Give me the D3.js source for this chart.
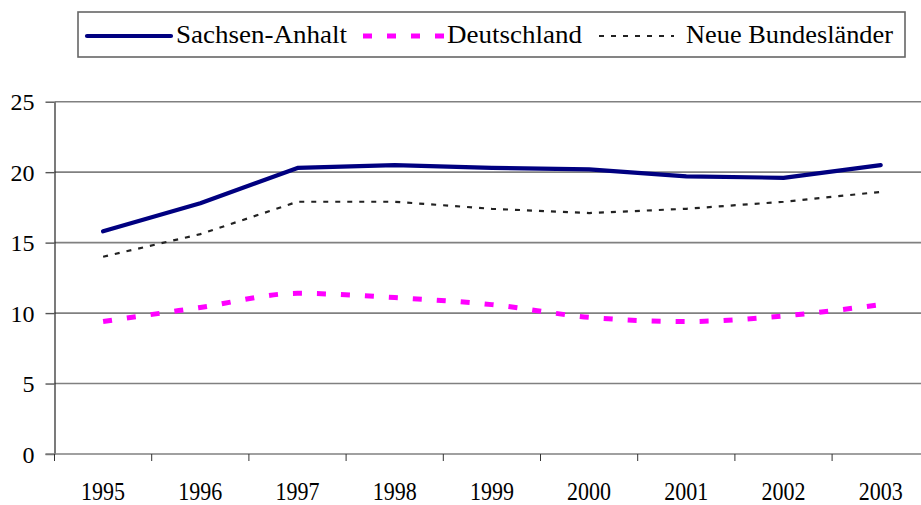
<!DOCTYPE html>
<html>
<head>
<meta charset="utf-8">
<script src="https://cdn.jsdelivr.net/npm/d3@7"></script>
<style>
  body { margin: 0; background: #fff; }
  svg { display: block; font-family: "Liberation Serif", "Times New Roman", serif; }
</style>
</head>
<body>
<div id="chart"></div>
<script>
const years = ['1995', '1996', '1997', '1998', '1999', '2000', '2001', '2002', '2003'];
const sachsenAnhalt = [15.8, 17.8, 20.3, 20.5, 20.3, 20.2, 19.7, 19.6, 20.5];
const deutschland = [9.4, 10.4, 11.4, 11.1, 10.6, 9.7, 9.4, 9.8, 10.6];
const neueBundeslaender = [14.0, 15.6, 17.9, 17.9, 17.4, 17.1, 17.4, 17.9, 18.6];
const yTicks = [0, 5, 10, 15, 20, 25];
const seriesNames = ['Sachsen-Anhalt', 'Deutschland', 'Neue Bundesländer'];

const width = 921;
const height = 505;
const margin = { top: 101.7, left: 54.5, bottom: 51 };
const plotRight = 929.3;

const svg = d3
  .select('#chart')
  .append('svg')
  .attr('width', width)
  .attr('height', height);

const x = d3.scaleBand().domain(years).range([margin.left, plotRight]);
const y = d3.scaleLinear().domain([0, 25]).range([height - margin.bottom, margin.top]);
const cx = d => x(d) + x.bandwidth() / 2;

// gridlines
svg
  .append('g')
  .selectAll('line')
  .data(yTicks.filter(t => t > 0))
  .enter()
  .append('line')
  .attr('x1', margin.left)
  .attr('x2', width)
  .attr('y1', d => y(d))
  .attr('y2', d => y(d))
  .attr('stroke', '#808080')
  .attr('stroke-width', 1.6);

// y axis
const yAxis = d3
  .axisLeft(y)
  .tickValues(yTicks)
  .tickSize(9)
  .tickPadding(11)
  .tickSizeOuter(0);

const gy = svg
  .append('g')
  .attr('transform', `translate(${margin.left},0)`)
  .call(yAxis);

gy.attr('font-family', null);
gy.select('.domain').attr('stroke', '#222').attr('stroke-width', 1.2);
gy.selectAll('.tick line').attr('stroke', '#555').attr('stroke-width', 1.4);
gy.selectAll('.tick text')
  .attr('font-size', 24)
  .attr('fill', '#000')
  .attr('dy', '0.34em');

// x axis
const xAxis = d3.axisBottom(x).tickSize(0).tickSizeOuter(0);

const gx = svg
  .append('g')
  .attr('transform', `translate(0,${y(0)})`)
  .call(xAxis);

gx.attr('font-family', null);
gx.select('.domain').remove();
gx.append('line')
  .attr('x1', margin.left - 9)
  .attr('x2', width)
  .attr('stroke', '#808080')
  .attr('stroke-width', 1.6);

gx.selectAll('.boundary')
  .data(years)
  .enter()
  .append('line')
  .attr('class', 'boundary')
  .attr('x1', d => x(d))
  .attr('x2', d => x(d))
  .attr('y1', 0)
  .attr('y2', 7)
  .attr('stroke', '#333')
  .attr('stroke-width', 1);

gx.selectAll('.tick text')
  .attr('dy', null)
  .attr('y', 46)
  .attr('font-size', 25)
  .attr('fill', '#000')
  .attr('textLength', 44)
  .attr('lengthAdjust', 'spacingAndGlyphs');

// lines
const linear = d3.line().x((d, i) => cx(years[i])).y(d => y(d));
const smooth = d3
  .line()
  .x((d, i) => cx(years[i]))
  .y(d => y(d))
  .curve(d3.curveMonotoneX);

svg
  .append('path')
  .datum(neueBundeslaender)
  .attr('d', linear)
  .attr('fill', 'none')
  .attr('stroke', '#222')
  .attr('stroke-width', 2.2)
  .attr('stroke-dasharray', '5,7');

svg
  .append('path')
  .datum(deutschland)
  .attr('d', smooth)
  .attr('fill', 'none')
  .attr('stroke', '#ff00ff')
  .attr('stroke-width', 5)
  .attr('stroke-dasharray', '9,15');

svg
  .append('path')
  .datum(sachsenAnhalt)
  .attr('d', linear)
  .attr('fill', 'none')
  .attr('stroke', '#000080')
  .attr('stroke-width', 4.2)
  .attr('stroke-linecap', 'round')
  .attr('stroke-linejoin', 'round');

// legend
const legend = svg.append('g');

legend
  .append('rect')
  .attr('x', 78)
  .attr('y', 12)
  .attr('width', 827)
  .attr('height', 45)
  .attr('fill', '#fff')
  .attr('stroke', '#666')
  .attr('stroke-width', 1.6);

const legendItems = [
  { x1: 87, x2: 171, tx: 176, tw: 171, stroke: '#000080', w: 4.2, dash: null, cap: 'round' },
  { x1: 363, x2: 444, tx: 447, tw: 135, stroke: '#ff00ff', w: 5, dash: '9,15', cap: 'butt' },
  { x1: 599, x2: 674, tx: 686, tw: 207, stroke: '#222', w: 2.2, dash: '5,7', cap: 'butt' }
];

legendItems.forEach((item, i) => {
  legend
    .append('line')
    .attr('x1', item.x1)
    .attr('x2', item.x2)
    .attr('y1', 36)
    .attr('y2', 36)
    .attr('stroke', item.stroke)
    .attr('stroke-width', item.w)
    .attr('stroke-linecap', item.cap)
    .attr('stroke-dasharray', item.dash);

  legend
    .append('text')
    .attr('x', item.tx)
    .attr('y', 42.5)
    .attr('font-size', 25)
    .attr('textLength', item.tw)
    .attr('lengthAdjust', 'spacingAndGlyphs')
    .text(seriesNames[i]);
});
</script>
</body>
</html>
